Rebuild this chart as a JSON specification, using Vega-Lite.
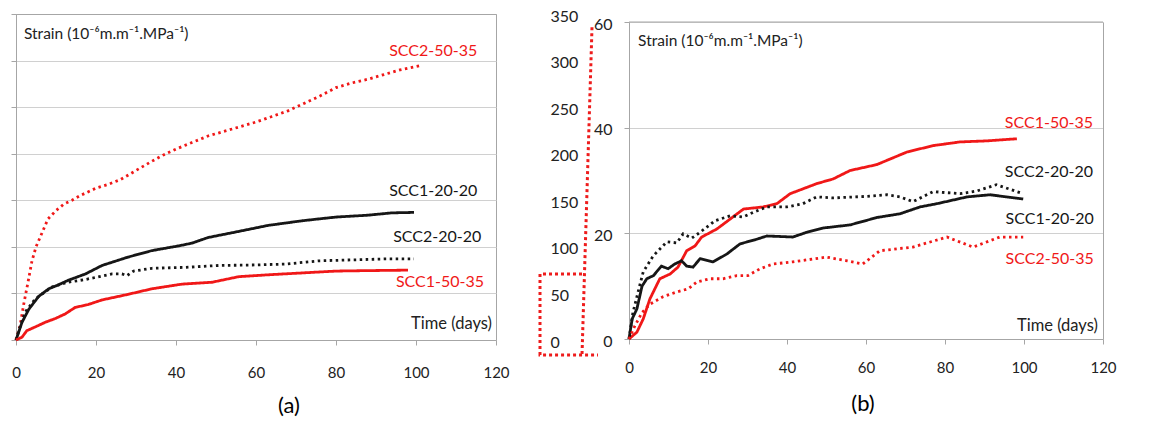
{
  "$schema": "https://vega.github.io/schema/vega-lite/v6.json",
  "padding": {"left": 9, "top": 7, "right": 5, "bottom": 5},
  "spacing": -12,
  "config": {
    "font": "Lato",
    "view": {"stroke": "#a6a6a6", "strokeWidth": 1},
    "axis": {"labelFont": "Lato", "labelColor": "#222222", "domainColor": "#a6a6a6", "tickColor": "#a6a6a6", "gridColor": "#d0d0d0"}
  },
  "datasets": {
    "a": [
      {"series":"SCC2-50-35","t":0,"v":0},{"series":"SCC2-50-35","t":1,"v":15},{"series":"SCC2-50-35","t":2,"v":40},{"series":"SCC2-50-35","t":3,"v":62},{"series":"SCC2-50-35","t":4,"v":85},{"series":"SCC2-50-35","t":5,"v":100},{"series":"SCC2-50-35","t":6,"v":110},{"series":"SCC2-50-35","t":7,"v":120},{"series":"SCC2-50-35","t":8,"v":130},{"series":"SCC2-50-35","t":10,"v":139},{"series":"SCC2-50-35","t":12,"v":146},{"series":"SCC2-50-35","t":14,"v":150},{"series":"SCC2-50-35","t":16,"v":155},{"series":"SCC2-50-35","t":18,"v":159},{"series":"SCC2-50-35","t":20,"v":163},{"series":"SCC2-50-35","t":23,"v":167},{"series":"SCC2-50-35","t":26,"v":172},{"series":"SCC2-50-35","t":30,"v":182},{"series":"SCC2-50-35","t":34,"v":192},{"series":"SCC2-50-35","t":37,"v":199},{"series":"SCC2-50-35","t":40,"v":205},{"series":"SCC2-50-35","t":44,"v":212},{"series":"SCC2-50-35","t":48,"v":219},{"series":"SCC2-50-35","t":52,"v":224},{"series":"SCC2-50-35","t":56,"v":229},{"series":"SCC2-50-35","t":60,"v":234},{"series":"SCC2-50-35","t":64,"v":240},{"series":"SCC2-50-35","t":68,"v":246},{"series":"SCC2-50-35","t":72,"v":254},{"series":"SCC2-50-35","t":76,"v":262},{"series":"SCC2-50-35","t":80,"v":271},{"series":"SCC2-50-35","t":84,"v":276},{"series":"SCC2-50-35","t":88,"v":280},{"series":"SCC2-50-35","t":92,"v":285},{"series":"SCC2-50-35","t":96,"v":290},{"series":"SCC2-50-35","t":101.5,"v":295},
      {"series":"SCC1-20-20","t":0,"v":0},{"series":"SCC1-20-20","t":1.5,"v":19},{"series":"SCC1-20-20","t":3.2,"v":33},{"series":"SCC1-20-20","t":5.7,"v":47},{"series":"SCC1-20-20","t":8.2,"v":55},{"series":"SCC1-20-20","t":10.5,"v":59},{"series":"SCC1-20-20","t":13,"v":64},{"series":"SCC1-20-20","t":17.4,"v":71},{"series":"SCC1-20-20","t":21.5,"v":80},{"series":"SCC1-20-20","t":28,"v":89},{"series":"SCC1-20-20","t":34,"v":96},{"series":"SCC1-20-20","t":40.6,"v":101},{"series":"SCC1-20-20","t":44,"v":104},{"series":"SCC1-20-20","t":48,"v":110},{"series":"SCC1-20-20","t":55,"v":116},{"series":"SCC1-20-20","t":63,"v":123},{"series":"SCC1-20-20","t":71.5,"v":128},{"series":"SCC1-20-20","t":80,"v":132},{"series":"SCC1-20-20","t":88,"v":134},{"series":"SCC1-20-20","t":94,"v":136.5},{"series":"SCC1-20-20","t":99.5,"v":137},
      {"series":"SCC2-20-20","t":0,"v":0},{"series":"SCC2-20-20","t":1,"v":14},{"series":"SCC2-20-20","t":2.3,"v":30},{"series":"SCC2-20-20","t":4.8,"v":44},{"series":"SCC2-20-20","t":9,"v":57},{"series":"SCC2-20-20","t":13,"v":62},{"series":"SCC2-20-20","t":17.4,"v":65},{"series":"SCC2-20-20","t":24,"v":71},{"series":"SCC2-20-20","t":26.5,"v":71},{"series":"SCC2-20-20","t":27.7,"v":69},{"series":"SCC2-20-20","t":29.4,"v":74},{"series":"SCC2-20-20","t":34,"v":77},{"series":"SCC2-20-20","t":42.4,"v":78},{"series":"SCC2-20-20","t":50.6,"v":80},{"series":"SCC2-20-20","t":59,"v":80.5},{"series":"SCC2-20-20","t":67.4,"v":81.5},{"series":"SCC2-20-20","t":75.7,"v":85},{"series":"SCC2-20-20","t":84,"v":86},{"series":"SCC2-20-20","t":92,"v":87},{"series":"SCC2-20-20","t":99.5,"v":87},
      {"series":"SCC1-50-35","t":0,"v":0},{"series":"SCC1-50-35","t":1.5,"v":3},{"series":"SCC1-50-35","t":2.7,"v":10},{"series":"SCC1-50-35","t":4.8,"v":14},{"series":"SCC1-50-35","t":7.3,"v":19},{"series":"SCC1-50-35","t":9.8,"v":23},{"series":"SCC1-50-35","t":12.3,"v":28},{"series":"SCC1-50-35","t":14.8,"v":35},{"series":"SCC1-50-35","t":18,"v":38},{"series":"SCC1-50-35","t":21.5,"v":43},{"series":"SCC1-50-35","t":28,"v":49},{"series":"SCC1-50-35","t":34,"v":55},{"series":"SCC1-50-35","t":41.5,"v":60},{"series":"SCC1-50-35","t":49,"v":62},{"series":"SCC1-50-35","t":55.7,"v":68},{"series":"SCC1-50-35","t":63,"v":70},{"series":"SCC1-50-35","t":71.5,"v":72},{"series":"SCC1-50-35","t":80,"v":74},{"series":"SCC1-50-35","t":88,"v":74.5},{"series":"SCC1-50-35","t":98,"v":75}
    ],
    "b": [
      {"series":"SCC1-50-35","t":0,"v":0},{"series":"SCC1-50-35","t":2,"v":1.3},{"series":"SCC1-50-35","t":3.6,"v":3.8},{"series":"SCC1-50-35","t":5.3,"v":7.6},{"series":"SCC1-50-35","t":7.8,"v":11.4},{"series":"SCC1-50-35","t":10.4,"v":12.3},{"series":"SCC1-50-35","t":12.4,"v":13.6},{"series":"SCC1-50-35","t":14.6,"v":16.7},{"series":"SCC1-50-35","t":16.7,"v":17.6},{"series":"SCC1-50-35","t":18.4,"v":19.3},{"series":"SCC1-50-35","t":22.2,"v":20.8},{"series":"SCC1-50-35","t":29,"v":24.6},{"series":"SCC1-50-35","t":34,"v":25},{"series":"SCC1-50-35","t":37.4,"v":25.6},{"series":"SCC1-50-35","t":40.8,"v":27.5},{"series":"SCC1-50-35","t":47.5,"v":29.4},{"series":"SCC1-50-35","t":51.7,"v":30.3},{"series":"SCC1-50-35","t":56,"v":31.9},{"series":"SCC1-50-35","t":62.7,"v":33},{"series":"SCC1-50-35","t":70.4,"v":35.4},{"series":"SCC1-50-35","t":77,"v":36.6},{"series":"SCC1-50-35","t":83.8,"v":37.3},{"series":"SCC1-50-35","t":90.6,"v":37.5},{"series":"SCC1-50-35","t":98.2,"v":37.9},
      {"series":"SCC2-20-20","t":0,"v":0},{"series":"SCC2-20-20","t":1,"v":5},{"series":"SCC2-20-20","t":2.3,"v":8.9},{"series":"SCC2-20-20","t":3.6,"v":12.7},{"series":"SCC2-20-20","t":6.1,"v":15.7},{"series":"SCC2-20-20","t":9.6,"v":18.4},{"series":"SCC2-20-20","t":12.1,"v":18.2},{"series":"SCC2-20-20","t":13.7,"v":19.9},{"series":"SCC2-20-20","t":15.9,"v":19.1},{"series":"SCC2-20-20","t":18,"v":20.2},{"series":"SCC2-20-20","t":21.8,"v":22.4},{"series":"SCC2-20-20","t":25.6,"v":23.3},{"series":"SCC2-20-20","t":28.9,"v":23.1},{"series":"SCC2-20-20","t":31.5,"v":24},{"series":"SCC2-20-20","t":34.9,"v":25},{"series":"SCC2-20-20","t":40,"v":25},{"series":"SCC2-20-20","t":44,"v":25.6},{"series":"SCC2-20-20","t":47.5,"v":26.9},{"series":"SCC2-20-20","t":51.7,"v":26.7},{"series":"SCC2-20-20","t":60.2,"v":27},{"series":"SCC2-20-20","t":65.3,"v":27.3},{"series":"SCC2-20-20","t":68.6,"v":26.9},{"series":"SCC2-20-20","t":71.9,"v":26},{"series":"SCC2-20-20","t":77,"v":27.9},{"series":"SCC2-20-20","t":83.8,"v":27.5},{"series":"SCC2-20-20","t":88,"v":28},{"series":"SCC2-20-20","t":93,"v":29.2},{"series":"SCC2-20-20","t":99.8,"v":27.5},
      {"series":"SCC1-20-20","t":0,"v":0},{"series":"SCC1-20-20","t":0.8,"v":3.8},{"series":"SCC1-20-20","t":2,"v":5.7},{"series":"SCC1-20-20","t":3.3,"v":10},{"series":"SCC1-20-20","t":4.5,"v":11.4},{"series":"SCC1-20-20","t":6.2,"v":12},{"series":"SCC1-20-20","t":8.2,"v":13.8},{"series":"SCC1-20-20","t":9.9,"v":13.3},{"series":"SCC1-20-20","t":11.6,"v":14.2},{"series":"SCC1-20-20","t":13.3,"v":14.8},{"series":"SCC1-20-20","t":14.6,"v":13.8},{"series":"SCC1-20-20","t":16.2,"v":13.6},{"series":"SCC1-20-20","t":18,"v":15.2},{"series":"SCC1-20-20","t":21.3,"v":14.6},{"series":"SCC1-20-20","t":24.8,"v":16.1},{"series":"SCC1-20-20","t":28.1,"v":18},{"series":"SCC1-20-20","t":32.4,"v":18.9},{"series":"SCC1-20-20","t":34.9,"v":19.5},{"series":"SCC1-20-20","t":41.5,"v":19.3},{"series":"SCC1-20-20","t":45,"v":20.2},{"series":"SCC1-20-20","t":49.1,"v":21},{"series":"SCC1-20-20","t":56,"v":21.6},{"series":"SCC1-20-20","t":62.8,"v":23},{"series":"SCC1-20-20","t":68.6,"v":23.7},{"series":"SCC1-20-20","t":73.7,"v":25},{"series":"SCC1-20-20","t":77.9,"v":25.6},{"series":"SCC1-20-20","t":85.6,"v":26.9},{"series":"SCC1-20-20","t":91.4,"v":27.3},{"series":"SCC1-20-20","t":99.8,"v":26.5},
      {"series":"SCC2-50-35","t":0,"v":0},{"series":"SCC2-50-35","t":1.5,"v":2.5},{"series":"SCC2-50-35","t":3.3,"v":5},{"series":"SCC2-50-35","t":5.3,"v":6.6},{"series":"SCC2-50-35","t":8.6,"v":8},{"series":"SCC2-50-35","t":12.1,"v":8.9},{"series":"SCC2-50-35","t":15,"v":9.5},{"series":"SCC2-50-35","t":17.2,"v":10.8},{"series":"SCC2-50-35","t":20.5,"v":11.4},{"series":"SCC2-50-35","t":23.8,"v":11.4},{"series":"SCC2-50-35","t":27.3,"v":12},{"series":"SCC2-50-35","t":30.1,"v":12},{"series":"SCC2-50-35","t":33.2,"v":13.3},{"series":"SCC2-50-35","t":36.5,"v":14.2},{"series":"SCC2-50-35","t":41.5,"v":14.6},{"series":"SCC2-50-35","t":50,"v":15.5},{"series":"SCC2-50-35","t":55.2,"v":14.8},{"series":"SCC2-50-35","t":59.2,"v":14.2},{"series":"SCC2-50-35","t":63.5,"v":16.7},{"series":"SCC2-50-35","t":71.9,"v":17.4},{"series":"SCC2-50-35","t":80.5,"v":19.3},{"series":"SCC2-50-35","t":87.1,"v":17.4},{"series":"SCC2-50-35","t":93.9,"v":19.3},{"series":"SCC2-50-35","t":99.8,"v":19.3}
    ],
    "labA": [
      {"series":"SCC2-50-35","t":104.3,"v":310},
      {"series":"SCC1-20-20","t":104.3,"v":160},
      {"series":"SCC2-20-20","t":105.3,"v":110.5},
      {"series":"SCC1-50-35","t":106,"v":62}
    ],
    "labB": [
      {"series":"SCC1-50-35","t":106.3,"v":40.9},
      {"series":"SCC2-20-20","t":106.3,"v":31.6},
      {"series":"SCC1-20-20","t":106.5,"v":22.7},
      {"series":"SCC2-50-35","t":106.5,"v":15.2}
    ],
    "ann": [
      {"g":1,"o":1,"t":144,"v":335.8},{"g":1,"o":2,"t":141.5,"v":-16.1},
      {"g":2,"o":1,"t":141.5,"v":70.8},{"g":2,"o":2,"t":131,"v":70.8},{"g":2,"o":3,"t":131,"v":-16.1},{"g":2,"o":4,"t":145.5,"v":-16.1}
    ]
  },
  "hconcat": [
    {
      "width": 480,
      "height": 326,
      "title": {"text": "(a)", "orient": "bottom", "frame": "group", "anchor": "middle", "dx": 33, "offset": 16, "fontSize": 22, "fontWeight": "normal", "font": "Lato", "color": "#000000"},
      "encoding": {
        "x": {"field": "t", "type": "quantitative", "scale": {"domain": [0, 120], "nice": false, "zero": false},
          "axis": {"title": null, "values": [0, 20, 40, 60, 80, 100, 120], "grid": false, "tickSize": 5, "labelPadding": 20, "labelFontSize": 15, "labelFlush": false}}
      },
      "layer": [
        {
          "data": {"name": "a"},
          "mark": {"type": "line", "strokeWidth": 2.8, "clip": false},
          "encoding": {
            "y": {"field": "v", "type": "quantitative", "scale": {"domain": [0, 350], "nice": false, "zero": false},
              "axis": {"orient": "left", "title": null, "values": [0, 50, 100, 150, 200, 250, 300, 350], "labels": false, "tickSize": 5, "grid": true, "domain": true,
                "gridColor": {"condition": {"test": "datum.value == 350", "value": "#a6a6a6"}, "value": "#d0d0d0"}}},
            "color": {"field": "series", "type": "nominal", "legend": null,
              "scale": {"domain": ["SCC1-20-20", "SCC2-20-20", "SCC1-50-35", "SCC2-50-35"], "range": ["#161616", "#161616", "#f01818", "#f01818"]}},
            "strokeDash": {"field": "series", "type": "nominal", "legend": null,
              "scale": {"domain": ["SCC1-20-20", "SCC2-20-20", "SCC1-50-35", "SCC2-50-35"], "range": [[1, 0], [2.5, 3.5], [1, 0], [2.5, 3.5]]}}
          }
        },
        {
          "data": {"name": "labA"},
          "mark": {"type": "text", "fontSize": 16, "font": "Lato", "align": "center", "baseline": "middle"},
          "encoding": {
            "y": {"field": "v", "type": "quantitative", "scale": {"domain": [0, 350], "nice": false, "zero": false},
              "axis": {"orient": "right", "title": null, "offset": 50, "values": [0, 50, 100, 150, 200, 250, 300, 350], "labels": true, "ticks": false, "domain": false, "grid": false, "labelPadding": 4, "labelFontSize": 16, "labelOffset": 2}},
            "text": {"field": "series"},
            "color": {"field": "series", "type": "nominal", "legend": null}
          }
        },
        {
          "data": {"values": [{"t": 2, "v": 328, "label": "Strain (10⁻⁶m.m⁻¹.MPa⁻¹)"}]},
          "mark": {"type": "text", "fontSize": 15.5, "font": "Lato", "align": "left", "baseline": "middle", "color": "#222222"},
          "encoding": {"y": {"field": "v", "type": "quantitative", "axis": null}, "text": {"field": "label"}}
        },
        {
          "data": {"values": [{"t": 119, "v": 17, "label": "Time (days)"}]},
          "mark": {"type": "text", "fontSize": 16.5, "font": "Lato", "align": "right", "baseline": "middle", "color": "#222222"},
          "encoding": {"y": {"field": "v", "type": "quantitative", "axis": null}, "text": {"field": "label"}}
        },
        {
          "data": {"name": "ann"},
          "mark": {"type": "line", "color": "#ee1c1c", "strokeWidth": 3, "strokeDash": [3, 3], "clip": false},
          "encoding": {"y": {"field": "v", "type": "quantitative", "axis": null}, "detail": {"field": "g"}, "order": {"field": "o"}}
        }
      ],
      "resolve": {"axis": {"y": "independent"}}
    },
    {
      "width": 474,
      "height": 325,
      "view": {"stroke": null},
      "title": {"text": "(b)", "orient": "bottom", "frame": "group", "anchor": "middle", "dx": -3, "offset": 19, "fontSize": 22, "fontWeight": "normal", "font": "Lato", "color": "#000000"},
      "encoding": {
        "x": {"field": "t", "type": "quantitative", "scale": {"domain": [0, 120], "nice": false, "zero": false},
          "axis": {"title": null, "values": [0, 20, 40, 60, 80, 100, 120], "grid": false, "tickSize": 5, "labelPadding": 16, "labelFontSize": 15, "labelFlush": false}}
      },
      "layer": [
        {
          "data": {"name": "b"},
          "mark": {"type": "line", "strokeWidth": 2.8, "clip": false},
          "encoding": {
            "y": {"field": "v", "type": "quantitative", "scale": {"domain": [0, 60], "range": [325, 8], "nice": false, "zero": false},
              "axis": {"orient": "left", "title": null, "values": [0, 20, 40, 60], "tickSize": 5, "labelPadding": 12, "labelFontSize": 16, "labelOffset": 2, "grid": true, "domain": true}},
            "color": {"field": "series", "type": "nominal", "legend": null,
              "scale": {"domain": ["SCC1-20-20", "SCC2-20-20", "SCC1-50-35", "SCC2-50-35"], "range": ["#161616", "#161616", "#f01818", "#f01818"]}},
            "strokeDash": {"field": "series", "type": "nominal", "legend": null,
              "scale": {"domain": ["SCC1-20-20", "SCC2-20-20", "SCC1-50-35", "SCC2-50-35"], "range": [[1, 0], [2.5, 3.5], [1, 0], [2.5, 3.5]]}}
          }
        },
        {
          "data": {"values": [{"t": 0, "t2": 120, "v": 60}]},
          "mark": {"type": "rule", "color": "#a6a6a6", "strokeWidth": 1},
          "encoding": {
            "x2": {"field": "t2"},
            "y": {"field": "v", "type": "quantitative",
              "axis": {"orient": "right", "title": null, "labels": false, "ticks": false, "grid": false, "domain": true}}
          }
        },
        {
          "data": {"name": "labB"},
          "mark": {"type": "text", "fontSize": 16, "font": "Lato", "align": "center", "baseline": "middle"},
          "encoding": {
            "y": {"field": "v", "type": "quantitative", "axis": null},
            "text": {"field": "series"},
            "color": {"field": "series", "type": "nominal", "legend": null}
          }
        },
        {
          "data": {"values": [{"t": 2.3, "v": 56.4, "label": "Strain (10⁻⁶m.m⁻¹.MPa⁻¹)"}]},
          "mark": {"type": "text", "fontSize": 15.5, "font": "Lato", "align": "left", "baseline": "middle", "color": "#222222"},
          "encoding": {"y": {"field": "v", "type": "quantitative", "axis": null}, "text": {"field": "label"}}
        },
        {
          "data": {"values": [{"t": 118.7, "v": 2.5, "label": "Time (days)"}]},
          "mark": {"type": "text", "fontSize": 16.5, "font": "Lato", "align": "right", "baseline": "middle", "color": "#222222"},
          "encoding": {"y": {"field": "v", "type": "quantitative", "axis": null}, "text": {"field": "label"}}
        }
      ],
      "resolve": {"axis": {"y": "independent"}}
    }
  ]
}
